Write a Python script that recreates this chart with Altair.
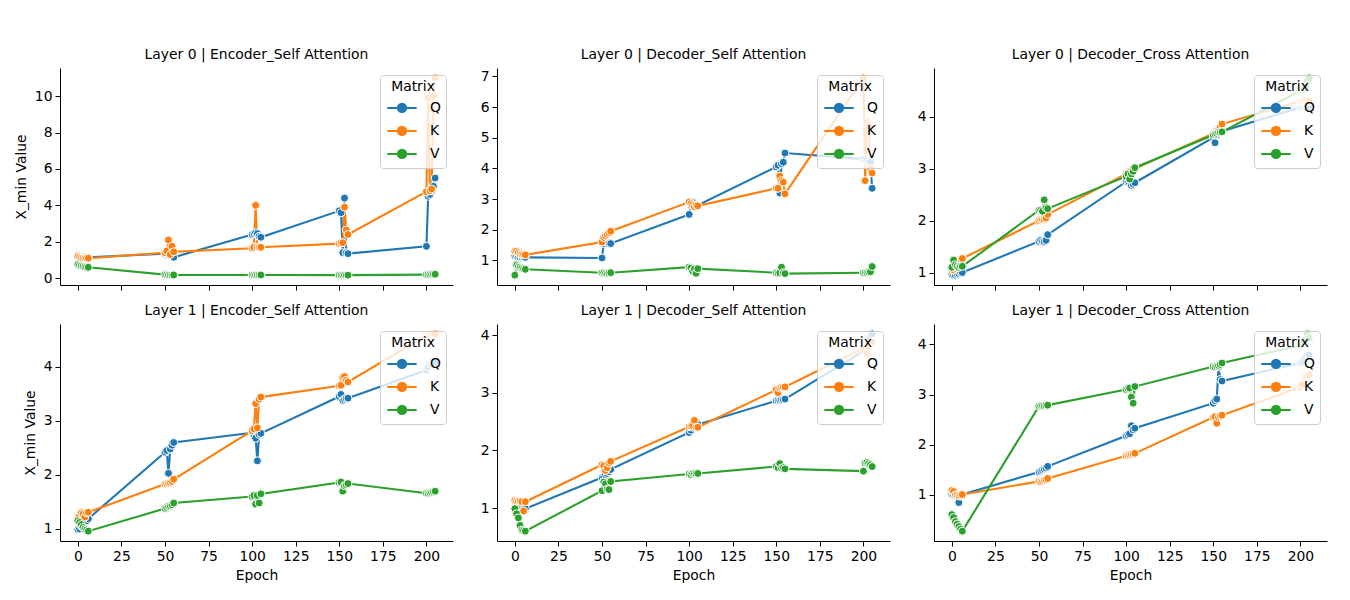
import altair as alt
import pandas as pd

epochs = [0, 1, 2, 3, 4, 5, 6,
          50, 51, 52, 53, 54, 55,
          100, 101, 102, 103, 104, 105,
          150, 151, 152, 153, 154, 155,
          200, 201, 202, 203, 204, 205]

panel_titles = [
    "Layer 0 | Encoder_Self Attention",
    "Layer 0 | Decoder_Self Attention",
    "Layer 0 | Decoder_Cross Attention",
    "Layer 1 | Encoder_Self Attention",
    "Layer 1 | Decoder_Self Attention",
    "Layer 1 | Decoder_Cross Attention",
]
matrices = ["Q", "K", "V"]
palette = ["#1f77b4", "#ff7f0e", "#2ca02c"]

x_ticks = [0, 25, 50, 75, 100, 125, 150, 175, 200]
y_ticks = [
    [0, 2, 4, 6, 8, 10],
    [1, 2, 3, 4, 5, 6, 7],
    [1, 2, 3, 4],
    [1, 2, 3, 4],
    [1, 2, 3, 4],
    [1, 2, 3, 4],
]

# Layer 0 | Encoder_Self Attention
l0_enc_q = [1.25, 1.2, 1.15, 1.15, 1.15, 1.15, 1.15,
            1.35, 1.3, 1.3, 1.25, 1.2, 1.15,
            2.4, 2.45, 2.5, 2.45, 2.3, 2.25,
            3.7, 3.6, 1.4, 4.4, 1.4, 1.35,
            1.75, 4.5, 4.6, 4.8, 5.05, 5.5]
l0_enc_k = [1.2, 1.15, 1.1, 1.1, 1.1, 1.1, 1.1,
            1.4, 1.5, 2.1, 1.3, 1.75, 1.45,
            1.65, 1.7, 4.0, 1.7, 1.7, 1.7,
            1.9, 1.95, 1.95, 3.9, 2.65, 2.4,
            4.75, 9.9, 4.8, 4.9, 10.0, 11.0]
l0_enc_v = [0.75, 0.7, 0.68, 0.65, 0.62, 0.6, 0.6,
            0.2, 0.19, 0.18, 0.18, 0.18, 0.18,
            0.18, 0.18, 0.18, 0.18, 0.18, 0.18,
            0.17, 0.17, 0.17, 0.17, 0.17, 0.17,
            0.2, 0.2, 0.21, 0.21, 0.22, 0.22]

# Layer 0 | Decoder_Self Attention
l0_dself_q = [1.15, 1.15, 1.1, 1.1, 1.1, 1.1, 1.1,
              1.08, 1.55, 1.6, 1.6, 1.55, 1.55,
              2.5, 2.8, 2.9, 2.85, 2.8, 2.8,
              4.05, 4.1, 3.2, 4.15, 4.2, 4.5,
              4.3, 4.3, 4.25, 4.2, 4.2, 3.35]
l0_dself_k = [1.3, 1.3, 1.25, 1.2, 1.2, 1.2, 1.18,
              1.6, 1.75, 1.8, 1.85, 1.9, 1.95,
              2.9, 2.85, 2.8, 2.75, 2.8, 2.78,
              3.35, 3.35, 3.75, 3.6, 3.55, 3.17,
              6.95, 3.6, 5.5, 5.4, 4.0, 3.85]
l0_dself_v = [0.52, 0.85, 0.8, 0.78, 0.75, 0.72, 0.71,
              0.6, 0.6, 0.58, 0.58, 0.6, 0.6,
              0.78, 0.75, 0.65, 0.72, 0.58, 0.73,
              0.6, 0.58, 0.6, 0.78, 0.6, 0.57,
              0.6, 0.6, 0.6, 0.62, 0.63, 0.8]

# Layer 0 | Decoder_Cross Attention
l0_dcross_q = [0.97, 0.95, 0.95, 0.97, 0.98, 1.0, 1.0,
               1.6, 1.62, 1.6, 1.6, 1.62, 1.73,
               2.75, 2.75, 2.72, 2.68, 2.7, 2.73,
               3.6, 3.5, 3.65, 3.7, 3.7, 3.72,
               4.18, 4.19, 4.2, 4.2, 4.21, 4.2]
l0_dcross_k = [1.05, 1.05, 1.08, 1.1, 1.15, 1.2, 1.27,
               2.0, 2.02, 2.02, 2.03, 2.05, 2.12,
               2.9, 2.92, 2.95, 2.97, 3.0, 3.0,
               3.68, 3.7, 3.72, 3.75, 3.8, 3.86,
               4.3, 4.3, 4.32, 4.32, 4.3, 4.3]
l0_dcross_v = [1.1, 1.24, 1.15, 1.12, 1.1, 1.12, 1.12,
               2.2, 2.2, 2.18, 2.4, 2.25, 2.23,
               2.85, 2.9, 2.8, 2.9, 2.95, 3.02,
               3.65, 3.67, 3.68, 3.7, 3.7, 3.71,
               4.5, 4.52, 4.55, 4.6, 4.7, 4.75]

# Layer 1 | Encoder_Self Attention
l1_enc_q = [0.99, 1.0, 1.05, 1.1, 1.12, 1.15, 1.19,
            2.42, 2.45, 2.03, 2.48, 2.55, 2.6,
            2.78, 2.75, 2.68, 2.26, 2.75, 2.77,
            3.45, 3.49, 3.38, 3.4, 3.42, 3.42,
            3.94, 4.0, 4.05, 4.05, 4.07, 4.08]
l1_enc_k = [1.2, 1.25, 1.3, 1.28, 1.22, 1.3, 1.31,
            1.83, 1.84, 1.85, 1.86, 1.88, 1.92,
            2.82, 2.85, 3.32, 2.87, 3.4, 3.44,
            3.65, 3.66, 3.8, 3.82, 3.75, 3.72,
            4.58, 4.59, 4.6, 4.6, 4.6, 4.61]
l1_enc_v = [1.15, 1.12, 1.08, 1.03, 1.0, 0.98, 0.96,
            1.38, 1.4, 1.42, 1.43, 1.45, 1.48,
            1.6, 1.62, 1.46, 1.62, 1.48, 1.65,
            1.86, 1.87, 1.7, 1.8, 1.82, 1.84,
            1.66, 1.66, 1.67, 1.68, 1.69, 1.7]

# Layer 1 | Decoder_Self Attention
l1_dself_q = [1.0, 1.0, 1.0, 1.0, 0.99, 0.99, 0.99,
              1.53, 1.55, 1.58, 1.6, 1.63, 1.67,
              2.31, 2.35, 2.4, 2.42, 2.44, 2.45,
              2.86, 2.87, 2.87, 2.88, 2.88, 2.89,
              3.72, 3.75, 3.8, 3.85, 3.95, 4.02]
l1_dself_k = [1.13, 1.12, 1.12, 1.12, 1.11, 0.95, 1.11,
              1.75, 1.73, 1.65, 1.7, 1.78, 1.81,
              2.41, 2.42, 2.43, 2.52, 2.4, 2.4,
              3.05, 3.0, 3.08, 3.1, 3.1, 3.1,
              3.77, 3.75, 3.68, 3.8, 3.85, 3.88]
l1_dself_v = [0.99, 0.9, 0.83, 0.7, 0.62, 0.61, 0.6,
              1.3, 1.45, 1.42, 1.33, 1.32, 1.46,
              1.59, 1.58, 1.6, 1.6, 1.6, 1.6,
              1.72, 1.7, 1.77, 1.69, 1.7, 1.68,
              1.64, 1.78, 1.79, 1.77, 1.75, 1.72]

# Layer 1 | Decoder_Cross Attention
l1_dcross_q = [1.02, 1.0, 0.98, 0.97, 0.85, 0.98, 1.01,
               1.46, 1.48, 1.5, 1.52, 1.54, 1.57,
               2.18, 2.2, 2.22, 2.38, 2.3, 2.33,
               2.83, 2.88, 2.91, 3.55, 3.3, 3.27,
               3.63, 3.65, 3.7, 3.75, 3.78, 3.79]
l1_dcross_k = [1.09, 1.07, 1.0, 1.0, 0.98, 1.0, 1.01,
               1.27, 1.26, 1.28, 1.3, 1.31, 1.33,
               1.78, 1.79, 1.8, 1.81, 1.82, 1.83,
               2.55, 2.56, 2.43, 2.55, 2.58, 2.59,
               3.15, 3.2, 3.35, 3.35, 3.37, 3.39]
l1_dcross_v = [0.61, 0.55, 0.47, 0.42, 0.37, 0.32, 0.28,
               2.77, 2.78, 2.78, 2.78, 2.79, 2.79,
               3.1, 3.12, 3.13, 2.95, 2.83, 3.16,
               3.56, 3.55, 3.57, 3.58, 3.6, 3.63,
               3.98, 4.0, 4.05, 4.1, 4.21, 4.13]

series = [
    (l0_enc_q, l0_enc_k, l0_enc_v),
    (l0_dself_q, l0_dself_k, l0_dself_v),
    (l0_dcross_q, l0_dcross_k, l0_dcross_v),
    (l1_enc_q, l1_enc_k, l1_enc_v),
    (l1_dself_q, l1_dself_k, l1_dself_v),
    (l1_dcross_q, l1_dcross_k, l1_dcross_v),
]

FONT = "DejaVu Sans"
FS = 13.9
legend_symbol = "M-2.1,0H2.1M-0.6,0A0.6,0.6,0,1,1,0.6,0A0.6,0.6,0,1,1,-0.6,0Z"


def make_panel(i):
    rows = []
    for m, vals in zip(matrices, series[i]):
        for e, v in zip(epochs, vals):
            rows.append({"Epoch": e, "Value": v, "Matrix": m})
    df = pd.DataFrame(rows)
    lo, hi = df["Value"].min(), df["Value"].max()
    pad = 0.05 * (hi - lo)
    bottom = i >= 3
    left = i % 3 == 0

    x = alt.X("Epoch:Q",
              scale=alt.Scale(domain=[-10.25, 215.25], nice=False, zero=False),
              axis=alt.Axis(values=x_ticks, labels=bottom, title="Epoch" if bottom else None,
                            format="d"))
    y_axis = alt.Axis(values=y_ticks[i], format="d", title="X_min Value" if left else None)
    y = alt.Y("Value:Q", scale=alt.Scale(domain=[lo - pad, hi + pad], nice=False, zero=False),
              axis=y_axis)
    color = alt.Color("Matrix:N", sort=matrices,
                      scale=alt.Scale(domain=matrices, range=palette),
                      legend=alt.Legend(orient="top-right", offset=7, title="Matrix",
                                        fillColor="rgba(255,255,255,0.8)", strokeColor="#cccccc",
                                        cornerRadius=3, padding=5,
                                        symbolType=legend_symbol, symbolSize=196,
                                        symbolOffset=9,
                                        symbolStrokeWidth=2, symbolOpacity=1,
                                        labelFont=FONT, titleFont=FONT,
                                        labelFontSize=FS, titleFontSize=FS,
                                        titleFontWeight="normal", titleAnchor="middle",
                                        titlePadding=6,
                                        rowPadding=5, labelOffset=20))
    base = alt.Chart(df)
    line = base.mark_line(strokeWidth=2.1).encode(x=x, y=y, color=color, order="Epoch:Q")
    pts = base.mark_point(filled=True, size=64, stroke="white", strokeWidth=1, opacity=1).encode(
        x=x, y=y, color=color)
    return alt.layer(line, pts).properties(
        width=393, height=217,
        title=alt.TitleParams(panel_titles[i], font=FONT, fontSize=FS, fontWeight="normal",
                              offset=6, color="black"))


charts = [make_panel(i) for i in range(6)]
chart = alt.concat(*charts, columns=3, spacing={"row": 13, "column": 27}).resolve_scale(
    x="independent", y="independent", color="independent"
).resolve_legend(color="independent").properties(
    padding={"left": 6, "top": 40, "right": 5, "bottom": 5}
).configure_view(stroke=None).configure_axis(
    labelFont=FONT, titleFont=FONT, labelFontSize=FS, titleFontSize=FS,
    titleFontWeight="normal", labelColor="black", titleColor="black",
    domainColor="black", tickColor="black", grid=False, tickSize=5, labelPadding=3,
    titlePadding=6
)

chart.save("out.html", embed_options={"renderer": "svg", "actions": False})
